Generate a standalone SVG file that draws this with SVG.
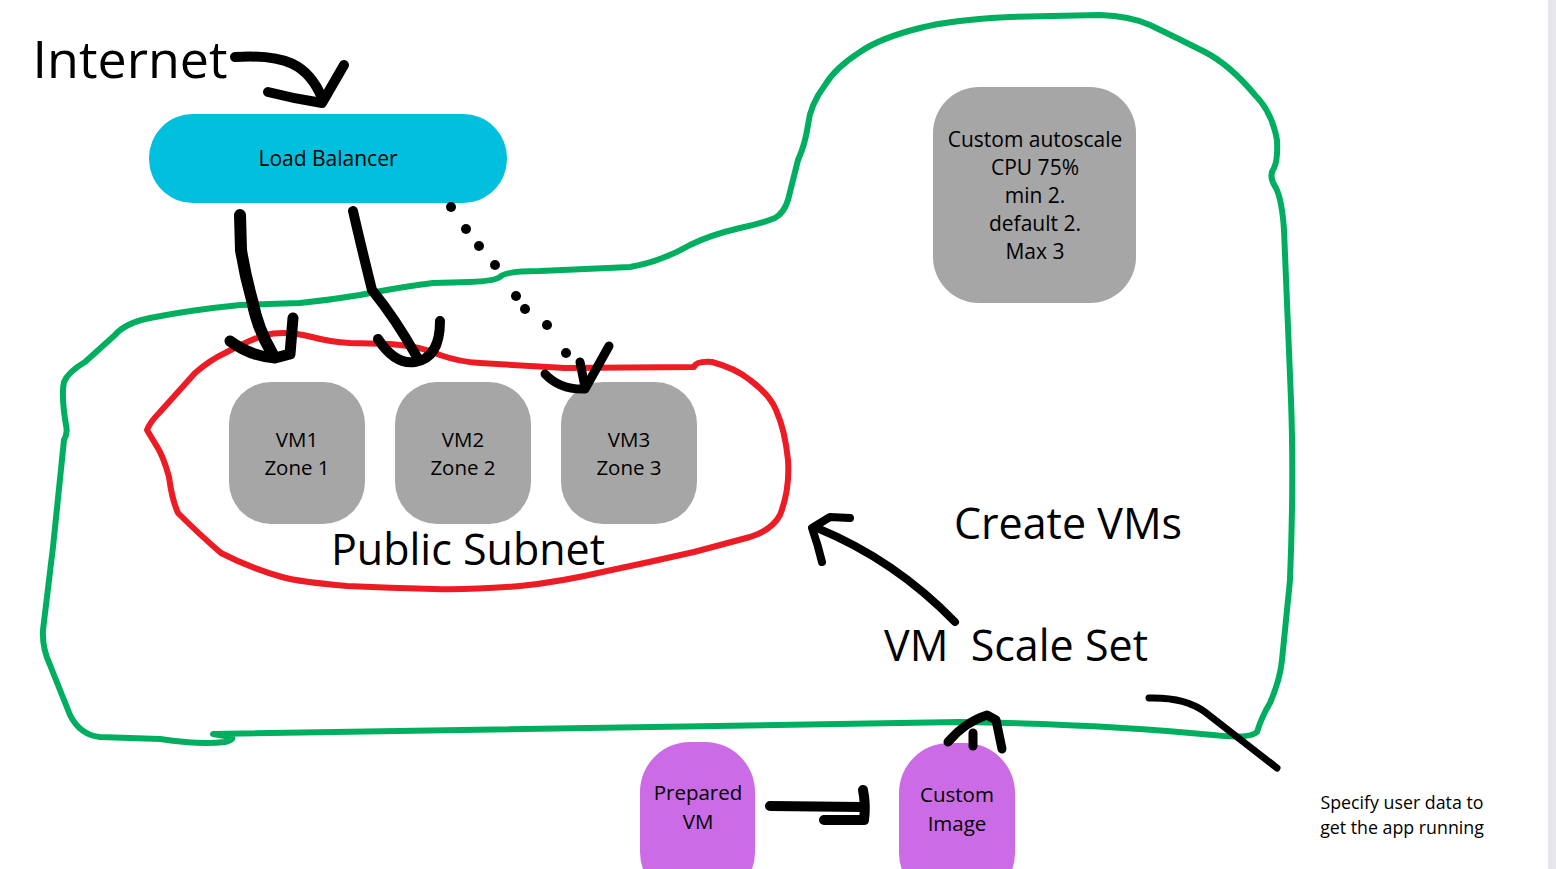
<svg xmlns="http://www.w3.org/2000/svg" width="1556" height="869" viewBox="0 0 1556 869">
<style>
.t{font-family:"Open Sans","Noto Sans","Liberation Sans",sans-serif;fill:#000;text-anchor:middle}
.big{font-size:43px}
.sm{font-size:20.5px}
.md{font-size:21px}
.xs{font-size:17.8px}
.ink{fill:none;stroke:#000;stroke-linecap:round;stroke-linejoin:round}
.green{fill:none;stroke:#00ae5f;stroke-width:6;stroke-linecap:round;stroke-linejoin:round}
.red{fill:none;stroke:#ed1c24;stroke-width:6;stroke-linecap:round;stroke-linejoin:round}
.vm{fill:#a6a6a6}
.pur{fill:#cb6ce6}
</style>
<rect width="1556" height="869" fill="#fff"/>
<rect x="1548" y="0" width="8" height="869" fill="#e6e6ec"/>

<g id="scale-set-boundary">
<path class="green" d="M213,734 L960,722 Q1100,724 1213,735 Q1250,739 1257,732 Q1262,716 1270,703 Q1280,680 1282,660 L1290,580 Q1294,480 1291,400 L1284,230 Q1282,200 1276,188 Q1268,176 1274,168 Q1278,160 1277,140 Q1272,112 1255,95 Q1230,65 1205,52 Q1175,37 1150,25 Q1130,16 1100,15 L1010,17 Q950,20 920,28 Q880,38 860,52 Q835,68 825,85 Q810,105 808,125 Q805,145 798,160 L788,200 Q784,213 775,218 Q760,224 740,228 Q710,235 690,245 Q660,262 630,267 L540,271 Q505,271 500,277 Q495,281 470,282 L433,283 Q400,287 360,295 Q330,300 300,303 L240,305 Q190,310 150,318 Q125,323 115,335 L85,362 Q68,372 64,382 Q61,395 66,425 Q68,433 64,440 L53,547 L43,630 Q42,648 50,665 L70,715 Q80,735 100,737 L160,739 Q200,745 225,742 Q240,738 225,736 Z"/>
</g>

<g id="public-subnet-boundary">
<path class="red" d="M147,430 Q150,422 160,412 L195,373 Q210,360 225,353 Q250,340 265,335 Q285,330 312,337 Q330,342 350,343 L390,344 Q420,346 440,355 Q460,362 480,363 L565,368 L694,367 Q696,361 712,362 Q735,368 750,380 Q770,395 776,410 Q785,430 788,460 Q790,490 780,515 Q772,530 750,537 L694,552 Q650,562 607,571 Q560,582 520,586 Q470,590 434,589 Q390,588 347,586 Q300,582 282,577 Q250,568 221,553 Q200,535 178,513 Q172,500 169,477 Q163,455 156,445 Z"/>
</g>

<g id="internet">
<text class="t" x="130" y="78" font-size="52">Internet</text>
</g>

<g id="load-balancer">
<rect x="149" y="114" width="358" height="89" rx="44" fill="#00c0de"/>
<text class="t md" x="328" y="166">Load Balancer</text>
</g>

<g id="vm1">
<rect class="vm" x="229" y="382" width="136" height="142" rx="42"/>
<text class="t sm" x="297" y="447">VM1</text>
<text class="t sm" x="297" y="475">Zone 1</text>
</g>
<g id="vm2">
<rect class="vm" x="395" y="382" width="136" height="142" rx="42"/>
<text class="t sm" x="463" y="447">VM2</text>
<text class="t sm" x="463" y="475">Zone 2</text>
</g>
<g id="vm3">
<rect class="vm" x="561" y="382" width="136" height="142" rx="42"/>
<text class="t sm" x="629" y="447">VM3</text>
<text class="t sm" x="629" y="475">Zone 3</text>
</g>

<g id="public-subnet-label">
<text class="t big" x="468" y="565">Public Subnet</text>
</g>

<g id="autoscale">
<rect class="vm" x="933" y="87" width="203" height="216" rx="46"/>
<text class="t md" x="1035" y="147">Custom autoscale</text>
<text class="t md" x="1035" y="175">CPU 75%</text>
<text class="t md" x="1035" y="203">min 2.</text>
<text class="t md" x="1035" y="231">default 2.</text>
<text class="t md" x="1035" y="259">Max 3</text>
</g>

<g id="create-vms-label">
<text class="t big" x="1068" y="539">Create VMs</text>
</g>
<g id="vm-scale-set-label">
<text class="t big" x="1016" y="661" xml:space="preserve">VM  Scale Set</text>
</g>

<g id="prepared-vm">
<rect class="pur" x="640" y="742" width="115" height="160" rx="50"/>
<text class="t sm" x="698" y="800">Prepared</text>
<text class="t sm" x="698" y="829">VM</text>
</g>
<g id="custom-image">
<rect class="pur" x="899" y="743" width="116" height="160" rx="50"/>
<text class="t sm" x="957" y="802">Custom</text>
<text class="t sm" x="957" y="831">Image</text>
</g>

<g id="user-data-note">
<text class="t xs" x="1402" y="809">Specify user data to</text>
<text class="t xs" x="1402" y="834">get the app running</text>
</g>

<g id="connectors">
<path class="ink" stroke-width="10" d="M235,57 C285,54 308,64 322,98"/>
<path class="ink" stroke-width="10" d="M268,92 Q295,99 322,103 L344,65"/>

<path class="ink" stroke-width="12" d="M240,215 L241,250 Q245,275 252,300 Q258,330 272,353"/>
<path class="ink" stroke-width="11" d="M230,341 Q250,356 275,358 L290,354 L293,318"/>

<path class="ink" stroke-width="10" d="M353,211 Q362,250 372,290 Q395,318 417,357"/>
<path class="ink" stroke-width="10" d="M378,339 Q395,365 415,362 Q440,358 440,321"/>

<g fill="#000">
<circle cx="451" cy="207" r="5"/>
<circle cx="466" cy="229" r="5"/>
<circle cx="479" cy="246" r="5"/>
<circle cx="495" cy="265" r="5"/>
<circle cx="516" cy="296" r="5"/>
<circle cx="525" cy="309" r="5"/>
<circle cx="547" cy="325" r="5"/>
<circle cx="566" cy="353" r="5"/>
</g>
<path class="ink" stroke-width="9" d="M545,374 Q560,390 585,389 L609,346"/>
<path class="ink" stroke-width="9" d="M580,362 L585,387"/>

<path class="ink" stroke-width="8" d="M955,622 Q895,560 817,528"/>
<path class="ink" stroke-width="8" d="M850,518 L830,517 L812,528 Q818,545 822,562"/>

<path class="ink" stroke-width="9" d="M948,742 Q965,722 987,715 L996,720 L1002,749"/>
<path class="ink" stroke-width="9" d="M973,733 L973,746"/>

<path class="ink" stroke-width="10" d="M770,806 L862,807"/>
<path class="ink" stroke-width="10" d="M863,790 Q866,805 864,820 L824,820"/>

<path class="ink" stroke-width="7" d="M1149,698 Q1185,697 1205,712 L1277,768"/>
</g>
</svg>
